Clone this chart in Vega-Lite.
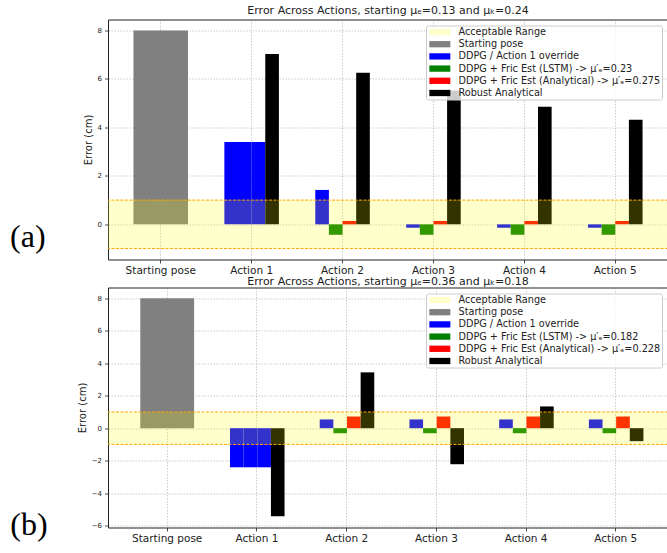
{
  "$schema": "https://vega.github.io/schema/vega-lite/v6.json",
  "padding": {"left": 10, "top": 3.5, "right": 0, "bottom": 0},
  "background": "white",
  "config": {
    "font": "DejaVu Sans",
    "view": {"stroke": "#222222", "strokeWidth": 1},
    "axis": {"domain": false, "grid": true, "gridColor": "#808080", "gridOpacity": 0.5, "gridDash": [1.5, 1.5], "gridWidth": 0.8, "tickColor": "#222222", "tickSize": 3.5, "tickWidth": 0.8, "labelColor": "#222222", "labelFont": "DejaVu Sans", "titleFont": "DejaVu Sans", "titleFontWeight": "normal", "titleColor": "#222222", "zindex": 1, "labelOverlap": false},
    "axisX": {"labelFontSize": 10.5, "labelPadding": 2, "labelAngle": 0},
    "axisY": {"labelFontSize": 7, "labelPadding": 3, "titleFontSize": 10, "titlePadding": 4},
    "legend": {"orient": "top-right", "offset": 6, "fillColor": "rgba(255,255,255,0.8)", "strokeColor": "#cccccc", "cornerRadius": 2, "padding": 1, "labelFont": "DejaVu Sans", "labelFontSize": 9.7, "labelColor": "#222222", "labelLimit": 400, "symbolType": "M-0.6,-0.6H3.4V0.6H-0.6Z", "symbolSize": 110, "symbolStrokeWidth": 0, "symbolOpacity": 1, "rowPadding": 1.2, "labelOffset": 20.5}
  },
  "datasets": {
    "a": [
      {"step": "Starting pose", "method": "Start", "series": "Starting pose", "error": 8.0},
      {"step": "Action 1", "method": "DDPG", "series": "DDPG / Action 1 override", "error": 3.40},
      {"step": "Action 1", "method": "LSTM", "series": "DDPG / Action 1 override", "error": 3.40},
      {"step": "Action 1", "method": "Analytical", "series": "DDPG / Action 1 override", "error": 3.40},
      {"step": "Action 1", "method": "Robust", "series": "Robust Analytical", "error": 7.03},
      {"step": "Action 2", "method": "DDPG", "series": "DDPG / Action 1 override", "error": 1.42},
      {"step": "Action 2", "method": "LSTM", "series": "DDPG + Fric Est (LSTM) -> μ′ₑ=0.23", "error": -0.43},
      {"step": "Action 2", "method": "Analytical", "series": "DDPG + Fric Est (Analytical) -> μ′ₑ=0.275", "error": 0.14},
      {"step": "Action 2", "method": "Robust", "series": "Robust Analytical", "error": 6.25},
      {"step": "Action 3", "method": "DDPG", "series": "DDPG / Action 1 override", "error": -0.14},
      {"step": "Action 3", "method": "LSTM", "series": "DDPG + Fric Est (LSTM) -> μ′ₑ=0.23", "error": -0.43},
      {"step": "Action 3", "method": "Analytical", "series": "DDPG + Fric Est (Analytical) -> μ′ₑ=0.275", "error": 0.14},
      {"step": "Action 3", "method": "Robust", "series": "Robust Analytical", "error": 5.52},
      {"step": "Action 4", "method": "DDPG", "series": "DDPG / Action 1 override", "error": -0.14},
      {"step": "Action 4", "method": "LSTM", "series": "DDPG + Fric Est (LSTM) -> μ′ₑ=0.23", "error": -0.43},
      {"step": "Action 4", "method": "Analytical", "series": "DDPG + Fric Est (Analytical) -> μ′ₑ=0.275", "error": 0.14},
      {"step": "Action 4", "method": "Robust", "series": "Robust Analytical", "error": 4.85},
      {"step": "Action 5", "method": "DDPG", "series": "DDPG / Action 1 override", "error": -0.14},
      {"step": "Action 5", "method": "LSTM", "series": "DDPG + Fric Est (LSTM) -> μ′ₑ=0.23", "error": -0.43},
      {"step": "Action 5", "method": "Analytical", "series": "DDPG + Fric Est (Analytical) -> μ′ₑ=0.275", "error": 0.14},
      {"step": "Action 5", "method": "Robust", "series": "Robust Analytical", "error": 4.31}
    ],
    "b": [
      {"step": "Starting pose", "method": "Start", "series": "Starting pose", "error": 8.0},
      {"step": "Action 1", "method": "DDPG", "series": "DDPG / Action 1 override", "error": -2.41},
      {"step": "Action 1", "method": "LSTM", "series": "DDPG / Action 1 override", "error": -2.41},
      {"step": "Action 1", "method": "Analytical", "series": "DDPG / Action 1 override", "error": -2.41},
      {"step": "Action 1", "method": "Robust", "series": "Robust Analytical", "error": -5.43},
      {"step": "Action 2", "method": "DDPG", "series": "DDPG / Action 1 override", "error": 0.54},
      {"step": "Action 2", "method": "LSTM", "series": "DDPG + Fric Est (LSTM) -> μ′ₑ=0.182", "error": -0.31},
      {"step": "Action 2", "method": "Analytical", "series": "DDPG + Fric Est (Analytical) -> μ′ₑ=0.228", "error": 0.72},
      {"step": "Action 2", "method": "Robust", "series": "Robust Analytical", "error": 3.44},
      {"step": "Action 3", "method": "DDPG", "series": "DDPG / Action 1 override", "error": 0.54},
      {"step": "Action 3", "method": "LSTM", "series": "DDPG + Fric Est (LSTM) -> μ′ₑ=0.182", "error": -0.31},
      {"step": "Action 3", "method": "Analytical", "series": "DDPG + Fric Est (Analytical) -> μ′ₑ=0.228", "error": 0.72},
      {"step": "Action 3", "method": "Robust", "series": "Robust Analytical", "error": -2.22},
      {"step": "Action 4", "method": "DDPG", "series": "DDPG / Action 1 override", "error": 0.54},
      {"step": "Action 4", "method": "LSTM", "series": "DDPG + Fric Est (LSTM) -> μ′ₑ=0.182", "error": -0.31},
      {"step": "Action 4", "method": "Analytical", "series": "DDPG + Fric Est (Analytical) -> μ′ₑ=0.228", "error": 0.72},
      {"step": "Action 4", "method": "Robust", "series": "Robust Analytical", "error": 1.34},
      {"step": "Action 5", "method": "DDPG", "series": "DDPG / Action 1 override", "error": 0.54},
      {"step": "Action 5", "method": "LSTM", "series": "DDPG + Fric Est (LSTM) -> μ′ₑ=0.182", "error": -0.31},
      {"step": "Action 5", "method": "Analytical", "series": "DDPG + Fric Est (Analytical) -> μ′ₑ=0.228", "error": 0.72},
      {"step": "Action 5", "method": "Robust", "series": "Robust Analytical", "error": -0.80}
    ]
  },
  "concat": [
    {
      "title": {"text": "(a)", "orient": "left", "anchor": "start", "angle": 0, "font": "Liberation Serif", "fontSize": 32, "fontWeight": "normal", "color": "#000000", "offset": 37, "baseline": "bottom", "dy": -22},
      "resolve": {"scale": {"color": "independent"}, "legend": {"color": "independent"}},
      "vconcat": [
        {
          "title": {"text": "Error Across Actions, starting μₑ=0.13 and μₖ=0.24", "font": "DejaVu Sans", "fontSize": 11, "fontWeight": "normal", "color": "#222222", "offset": 4, "anchor": "middle"},
          "width": 560,
          "height": 240,
          "data": {"name": "a"},
          "layer": [
            {
              "transform": [{"filter": "datum.step === 'Starting pose'"}],
              "mark": {"type": "bar"},
              "encoding": {
                "x": {"field": "step", "type": "nominal", "scale": {"domain": ["Starting pose", "Action 1", "Action 2", "Action 3", "Action 4", "Action 5"], "paddingInner": 0.4, "paddingOuter": 0.28}, "axis": {"title": null, "bandPosition": 0.5}},
                "y": {"field": "error", "type": "quantitative", "title": "Error (cm)", "scale": {"domain": [-1.45, 8.45], "nice": false, "zero": false}, "axis": {"values": [0, 2, 4, 6, 8], "labelOverlap": false}},
                "color": {"field": "series", "type": "nominal", "scale": {"domain": ["Acceptable Range", "Starting pose", "DDPG / Action 1 override", "DDPG + Fric Est (LSTM) -> μ′ₑ=0.23", "DDPG + Fric Est (Analytical) -> μ′ₑ=0.275", "Robust Analytical"], "range": ["#ffffcc", "#808080", "#0000ff", "#008000", "#ff0000", "#000000"]}, "legend": {"title": null}}
              }
            },
            {
              "transform": [{"filter": "datum.step !== 'Starting pose'"}],
              "mark": {"type": "bar"},
              "encoding": {
                "x": {"field": "step", "type": "nominal"},
                "xOffset": {"field": "method", "type": "nominal", "scale": {"domain": ["DDPG", "LSTM", "Analytical", "Robust"], "paddingInner": 0, "paddingOuter": 0}},
                "y": {"field": "error", "type": "quantitative", "title": "Error (cm)"},
                "color": {"field": "series", "type": "nominal"}
              }
            },
            {
              "data": {"values": [{"lo": -1, "hi": 1}]},
              "mark": {"type": "rect", "color": "#ffff00", "opacity": 0.2},
              "encoding": {
                "y": {"field": "lo", "type": "quantitative", "title": "Error (cm)"},
                "y2": {"field": "hi"}
              }
            },
            {
              "data": {"values": [{"limit": -1}, {"limit": 1}]},
              "mark": {"type": "rule", "color": "#ffa500", "strokeDash": [3, 1.5], "strokeWidth": 1},
              "encoding": {
                "y": {"field": "limit", "type": "quantitative", "title": "Error (cm)"}
              }
            }
          ]
        }
      ]
    },
    {
      "title": {"text": "(b)", "orient": "left", "anchor": "start", "angle": 0, "font": "Liberation Serif", "fontSize": 32, "fontWeight": "normal", "color": "#000000", "offset": 29, "baseline": "bottom", "dy": -2},
      "resolve": {"scale": {"color": "independent"}, "legend": {"color": "independent"}},
      "vconcat": [
        {
          "title": {"text": "Error Across Actions, starting μₑ=0.36 and μₖ=0.18", "font": "DejaVu Sans", "fontSize": 11, "fontWeight": "normal", "color": "#222222", "offset": 1, "anchor": "middle"},
          "width": 560,
          "height": 240,
          "data": {"name": "b"},
          "layer": [
            {
              "transform": [{"filter": "datum.step === 'Starting pose'"}],
              "mark": {"type": "bar"},
              "encoding": {
                "x": {"field": "step", "type": "nominal", "scale": {"domain": ["Starting pose", "Action 1", "Action 2", "Action 3", "Action 4", "Action 5"], "paddingInner": 0.4, "paddingOuter": 0.3208, "align": 0.5608}, "axis": {"title": null, "bandPosition": 0.5}},
                "y": {"field": "error", "type": "quantitative", "title": "Error (cm)", "scale": {"domain": [-6.12, 8.67], "nice": false, "zero": false}, "axis": {"values": [-6, -4, -2, 0, 2, 4, 6, 8], "labelOverlap": false, "tickCount": 8}},
                "color": {"field": "series", "type": "nominal", "scale": {"domain": ["Acceptable Range", "Starting pose", "DDPG / Action 1 override", "DDPG + Fric Est (LSTM) -> μ′ₑ=0.182", "DDPG + Fric Est (Analytical) -> μ′ₑ=0.228", "Robust Analytical"], "range": ["#ffffcc", "#808080", "#0000ff", "#008000", "#ff0000", "#000000"]}, "legend": {"title": null}}
              }
            },
            {
              "transform": [{"filter": "datum.step !== 'Starting pose'"}],
              "mark": {"type": "bar"},
              "encoding": {
                "x": {"field": "step", "type": "nominal"},
                "xOffset": {"field": "method", "type": "nominal", "scale": {"domain": ["DDPG", "LSTM", "Analytical", "Robust"], "paddingInner": 0, "paddingOuter": 0}},
                "y": {"field": "error", "type": "quantitative", "title": "Error (cm)"},
                "color": {"field": "series", "type": "nominal"}
              }
            },
            {
              "data": {"values": [{"lo": -1, "hi": 1}]},
              "mark": {"type": "rect", "color": "#ffff00", "opacity": 0.2},
              "encoding": {
                "y": {"field": "lo", "type": "quantitative", "title": "Error (cm)"},
                "y2": {"field": "hi"}
              }
            },
            {
              "data": {"values": [{"limit": -1}, {"limit": 1}]},
              "mark": {"type": "rule", "color": "#ffa500", "strokeDash": [3, 1.5], "strokeWidth": 1},
              "encoding": {
                "y": {"field": "limit", "type": "quantitative", "title": "Error (cm)"}
              }
            }
          ]
        }
      ]
    }
  ],
  "columns": 1,
  "align": "none",
  "spacing": -2,
  "resolve": {"scale": {"color": "independent"}, "legend": {"color": "independent"}}
}
